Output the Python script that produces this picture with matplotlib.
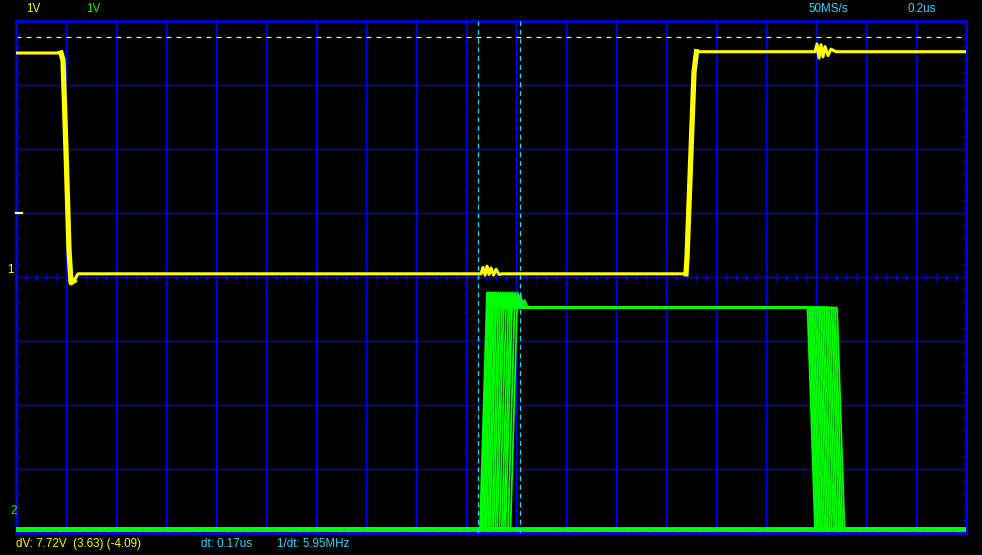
import numpy as np
import matplotlib
matplotlib.use("Agg")
import matplotlib.pyplot as plt
from matplotlib.ticker import MultipleLocator

# time in us, 0.2 us/div, 19 divisions; volts at 1 V/div, 8 divisions
t_span = 3.8
v_span = 4.0

# channel 1 (yellow) waveform
ch1_t = [0.000, 0.180, 0.188, 0.200, 0.212, 0.220, 0.232, 0.248,
         1.860, 1.868, 1.876, 1.884, 1.892, 1.900, 1.910, 1.920, 1.932, 1.944,
         2.680, 2.684, 2.712, 2.722, 2.730,
         3.196, 3.204, 3.212, 3.220, 3.228, 3.236, 3.248, 3.260, 3.280, 3.800]
ch1_v = [3.50, 3.50, 3.39, 1.98, 0.42, -0.09, -0.06, 0.05,
         0.05, 0.15, 0.03, 0.17, 0.04, 0.14, 0.03, 0.12, 0.04, 0.05,
         0.05, 0.30, 3.20, 3.52, 3.52,
         3.52, 3.64, 3.42, 3.63, 3.44, 3.60, 3.46, 3.56, 3.52, 3.52]

# channel 2 (green): persistence of several pulses, each with its own edge times
ch2_rise = [1.856, 1.860, 1.865, 1.871, 1.876, 1.882, 1.889, 1.895, 1.903, 1.910,
            1.918, 1.925, 1.934, 1.943, 1.951, 1.958, 1.968, 1.978]
ch2_fall = [3.166, 3.172, 3.178, 3.184, 3.190, 3.197, 3.204, 3.211, 3.218, 3.225,
            3.232, 3.240, 3.247, 3.254, 3.262, 3.269, 3.276, 3.284]
ch2_low = -3.93
ch2_high = -0.48
# pulse top shape after the rising edge (time offset, volts)
rise_dt = [0.0, 0.028, 0.034, 0.040, 0.048, 0.056, 0.068, 0.084]
rise_v = [ch2_low, -0.24, -0.42, -0.27, -0.45, -0.36, -0.46, ch2_high]
fall_dt = [0.0, 0.010, 0.030]
fall_v = [ch2_high, -1.6, ch2_low]

# cursors
cur_v = [3.75, -3.97]
cur_t = [1.848, 2.016]

fig = plt.figure(figsize=(9.82, 5.55), dpi=100, facecolor="black")
W, H = 982, 555
ax = fig.add_axes([16 / W, (H - 533) / H, 950 / W, 512 / H], facecolor="black")
ax.set_xlim(0, t_span)
ax.set_ylim(-v_span, v_span)

blue = "#0000ff"
for x in np.arange(0.2, t_span - 0.01, 0.2):
    ax.axvline(x, color=blue, lw=1.0, zorder=1)
for y in [-3, -2, -1, 0, 1, 2, 3]:
    ax.axhline(y, color=blue, lw=1.0, zorder=1)
cx = np.arange(0.04, t_span, 0.04)
ax.plot(cx, np.zeros(len(cx)), ls="none", marker="|", ms=5, mew=1.0,
        color=blue, zorder=1)

for s in ax.spines.values():
    s.set_color(blue)
    s.set_linewidth(1.8)
ax.set_xticks([])
ax.yaxis.set_major_locator(MultipleLocator(1.0))
ax.yaxis.set_minor_locator(MultipleLocator(0.2))
ax.tick_params(axis="y", which="both", direction="in", left=True, right=True,
               length=3, width=1.0, color=blue, labelleft=False)

# cursors
for v in cur_v:
    ax.axhline(v, color="#ffff40", lw=0.9, ls=(0, (4, 4)), zorder=2)
for t in cur_t:
    ax.axvline(t, color="#00e0ff", lw=0.9, ls=(0, (4, 3)), zorder=5)

# green persistence traces
for r, f in zip(ch2_rise, ch2_fall):
    tt = [0.0] + [r + d for d in rise_dt] + [f + d for d in fall_dt] + [t_span]
    vv = [ch2_low] + rise_v + fall_v + [ch2_low]
    ax.plot(tt, vv, color="#00ff00", lw=1.3, zorder=3)
ax.plot([0, t_span], [ch2_low, ch2_low], color="#00ff00", lw=3.5, zorder=3)

# yellow trace
ax.plot(ch1_t, ch1_v, color="#ffff00", lw=2.2, zorder=4)
ax.plot(ch1_t[1:7], ch1_v[1:7], color="#ffff00", lw=3.8, zorder=4)
ax.plot(ch1_t[18:22], ch1_v[18:22], color="#ffff00", lw=3.8, zorder=4)

# trigger level marker
ax.plot([0, 0.022], [1.0, 1.0], color="#ffffc0", lw=1.6, zorder=6, clip_on=False)


def ptext(x, y, s, c):
    fig.text(x / W, 1 - y / H, s, color=c, fontsize=8.4, va="center", ha="left",
             family=["Liberation Sans", "DejaVu Sans"])


cyan = "#30d8ff"
ptext(26, 9, "1V", "#ffff00")
ptext(86, 9, "1V", "#00ff00")
ptext(808, 9, "50MS/s", cyan)
ptext(907, 9, "0.2us", cyan)
ptext(7, 270, "1", "#ffff00")
ptext(10, 511, "2", "#00ff00")
ptext(16, 544, "dV: 7.72V  (3.63) (-4.09)", "#ffff00")
ptext(201, 544, "dt: 0.17us", cyan)
ptext(277, 544, "1/dt: 5.95MHz", cyan)

fig.savefig("out.png", dpi=100, facecolor="black")
